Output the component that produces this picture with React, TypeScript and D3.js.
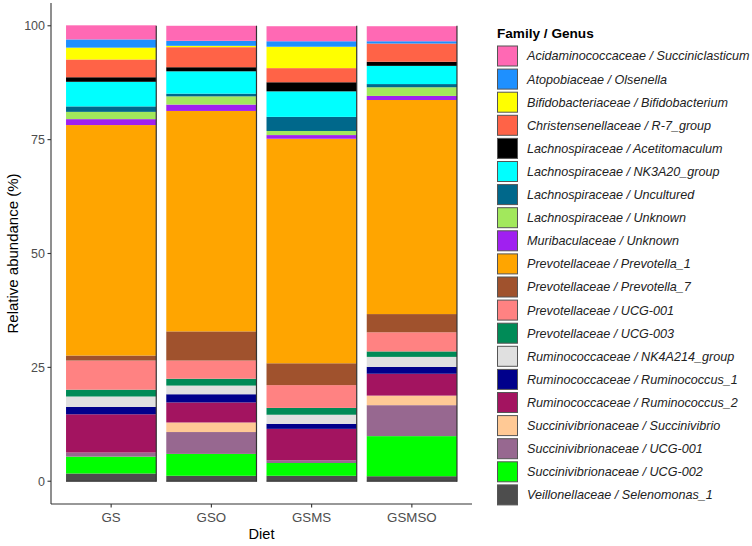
import React from "react";
import * as d3 from "d3";

const diets = ["GS", "GSO", "GSMS", "GSMSO"];

const taxa = [
  "Acidaminococcaceae / Succiniclasticum",
  "Atopobiaceae / Olsenella",
  "Bifidobacteriaceae / Bifidobacterium",
  "Christensenellaceae / R-7_group",
  "Lachnospiraceae / Acetitomaculum",
  "Lachnospiraceae / NK3A20_group",
  "Lachnospiraceae / Uncultured",
  "Lachnospiraceae / Unknown",
  "Muribaculaceae / Unknown",
  "Prevotellaceae / Prevotella_1",
  "Prevotellaceae / Prevotella_7",
  "Prevotellaceae / UCG-001",
  "Prevotellaceae / UCG-003",
  "Ruminococcaceae / NK4A214_group",
  "Ruminococcaceae / Ruminococcus_1",
  "Ruminococcaceae / Ruminococcus_2",
  "Succinivibrionaceae / Succinivibrio",
  "Succinivibrionaceae / UCG-001",
  "Succinivibrionaceae / UCG-002",
  "Veillonellaceae / Selenomonas_1",
];

const colors = [
  "#FF69B4", "#1E90FF", "#FFFF00", "#FF6347", "#000000",
  "#00FFFF", "#00688B", "#A2E85C", "#A020F0", "#FFA500",
  "#A0522D", "#FF8282", "#008B57", "#E0E0E0", "#00008B",
  "#A31460", "#FFC995", "#976890", "#00FF00", "#4D4D4D",
];

// values per taxon, in diet order GS, GSO, GSMS, GSMSO
const valGS = [3.1, 1.8, 2.6, 3.9, 1.0, 5.4, 1.2, 1.6, 1.3, 50.6, 1.1, 6.4, 1.5, 2.3, 1.6, 8.4, 0.0, 0.9, 3.7, 1.7];
const valGSO = [3.3, 1.1, 0.3, 4.4, 0.9, 4.9, 0.6, 1.8, 1.4, 48.4, 6.4, 4.0, 1.5, 1.9, 1.8, 4.4, 2.1, 4.8, 4.8, 1.2];
const valGSMS = [3.3, 1.2, 4.7, 3.1, 2.0, 5.6, 3.1, 0.9, 0.8, 49.3, 4.8, 5.0, 1.5, 2.0, 1.1, 6.9, 0.0, 0.6, 2.8, 1.2];
const valGSMSO = [3.3, 0.5, 0.0, 4.0, 0.9, 4.0, 0.7, 1.9, 0.9, 47.0, 4.0, 4.2, 1.2, 2.2, 1.5, 4.8, 2.1, 6.8, 8.8, 1.1];

const yTicks = [0, 25, 50, 75, 100];

export default function App() {
  const W = 752, H = 546;
  const panel = { left: 51, right: 472, top: 3, bottom: 504 };
  const x = d3.scaleBand<string>().domain(diets).range([panel.left, panel.right]).paddingInner(0.1).paddingOuter(0.15);
  const y = d3.scaleLinear().domain([-5, 105]).range([panel.bottom, panel.top]);
  const allVals = [valGS, valGSO, valGSMS, valGSMSO];

  const rows = diets.map((d, i) => {
    const r: any = { diet: d };
    taxa.forEach((t, j) => (r[t] = allVals[i][j]));
    return r;
  });
  // stack bottom-up in reverse legend order
  const stackKeys = taxa.slice().reverse();
  const series = d3.stack().keys(stackKeys)(rows);

  const font = "'Liberation Sans', Arial, sans-serif";
  const legendX = 497, legendY0 = 46, rowH = 23.1;

  return (
    <svg width={W} height={H} style={{ position: "absolute", left: 0, top: 0, background: "#fff" }} fontFamily={font}>
      {series.map((s) => {
        const idx = taxa.indexOf(s.key);
        return (
          <g key={s.key}>
            {s.map((seg, i) => {
              const h = y(seg[0]) - y(seg[1]);
              if (h <= 0) return null;
              return (
                <rect key={i} x={x(diets[i])!} width={x.bandwidth()} y={y(seg[1])} height={h} fill={colors[idx]} />
              );
            })}
          </g>
        );
      })}
      {diets.map((d) => (
        <g key={d} stroke="#333" strokeWidth={1.2}>
          <line x1={x(d)! + x.bandwidth()} x2={x(d)! + x.bandwidth()} y1={y(100)} y2={y(0) + 0.5} />
          <line x1={x(d)!} x2={x(d)! + x.bandwidth()} y1={y(0)} y2={y(0)} />
        </g>
      ))}
      {/* axes */}
      <line x1={panel.left} x2={panel.left} y1={panel.top} y2={panel.bottom} stroke="#333" strokeWidth={1.1} />
      <line x1={panel.left} x2={panel.right} y1={panel.bottom} y2={panel.bottom} stroke="#333" strokeWidth={1.1} />
      {yTicks.map((t) => (
        <g key={t}>
          <line x1={panel.left - 3.5} x2={panel.left} y1={y(t)} y2={y(t)} stroke="#333" strokeWidth={1.1} />
          <text x={panel.left - 6} y={y(t)} dy="0.35em" textAnchor="end" fontSize={12.5} fill="#4D4D4D">{t}</text>
        </g>
      ))}
      {diets.map((d) => {
        const cx = x(d)! + x.bandwidth() / 2;
        return (
          <g key={d}>
            <line x1={cx} x2={cx} y1={panel.bottom} y2={panel.bottom + 3.5} stroke="#333" strokeWidth={1.1} />
            <text x={cx} y={panel.bottom + 18} textAnchor="middle" fontSize={13.3} fill="#4D4D4D">{d}</text>
          </g>
        );
      })}
      <text x={(panel.left + panel.right) / 2} y={539} textAnchor="middle" fontSize={14.6} fill="#000">Diet</text>
      <text transform={`translate(18,${(panel.top + panel.bottom) / 2}) rotate(-90)`} textAnchor="middle" fontSize={15} fill="#000">Relative abundance (%)</text>
      {/* legend */}
      <text x={legendX} y={38} fontSize={13.6} fontWeight="bold" fill="#000">Family / Genus</text>
      {taxa.map((t, i) => {
        const ty = legendY0 + i * rowH;
        return (
          <g key={t}>
            <rect x={legendX + 0.5} y={ty} width={20} height={20} fill={colors[i]} stroke="#555" strokeWidth={1} />
            <text x={527} y={ty + 10} dy="0.35em" fontSize={12.6} fontStyle="italic" fill="#222">{t}</text>
          </g>
        );
      })}
    </svg>
  );
}
